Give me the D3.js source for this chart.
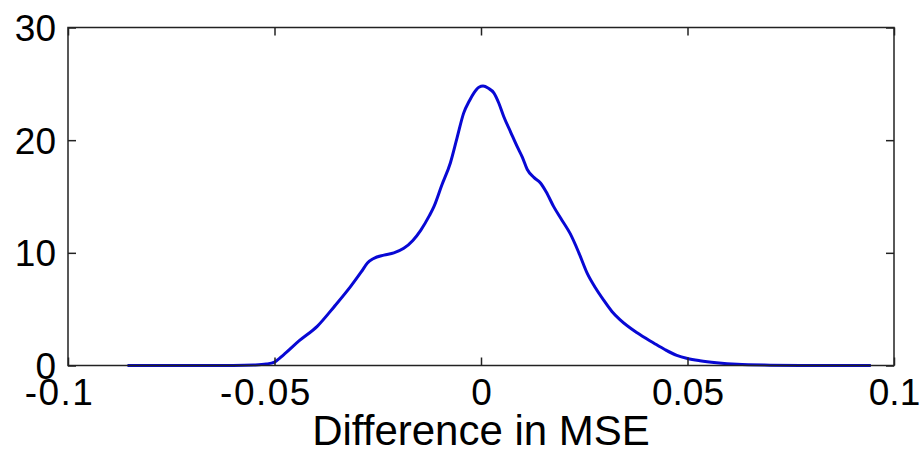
<!DOCTYPE html>
<html>
<head>
<meta charset="utf-8">
<script src="https://cdn.jsdelivr.net/npm/d3@7"></script>
<style>
  html, body { margin: 0; padding: 0; background: #fff; }
  svg { display: block; }
  text { font-family: Arial, "Liberation Sans", Helvetica, sans-serif; fill: #000; }
</style>
</head>
<body>
<svg id="chart" width="922" height="457"></svg>
<script>
// ---- data ----
const xValues = [-0.0856, -0.07, -0.06, -0.055, -0.052, -0.05, -0.0478, -0.044, -0.0396, -0.0356,
  -0.0316, -0.029, -0.0275, -0.026, -0.0235, -0.0211, -0.0187, -0.0165, -0.0146, -0.0125,
  -0.0114, -0.0095, -0.0074, -0.0058, -0.0042, -0.0028, -0.0017, -0.0005, 0.0005, 0.0018,
  0.0031, 0.0043, 0.0055, 0.0072, 0.0088, 0.0100, 0.0112, 0.0128, 0.0144, 0.0158,
  0.0176, 0.0196, 0.0216, 0.0237, 0.0257, 0.0277, 0.0297, 0.0317, 0.0337, 0.0378,
  0.0418, 0.0446, 0.0474, 0.050, 0.053, 0.057, 0.062, 0.07, 0.08, 0.0944];
const densityValues = [0, 0, 0.01, 0.05, 0.13, 0.3, 0.95, 2.2, 3.5, 5.2,
  7.0, 8.3, 9.1, 9.5, 9.8, 10.0, 10.4, 11.1, 12.0, 13.3,
  14.1, 16.0, 18.0, 20.2, 22.4, 23.5, 24.2, 24.7, 24.8, 24.6,
  24.2, 23.3, 22.1, 20.7, 19.4, 18.5, 17.4, 16.7, 16.2, 15.4,
  14.1, 12.9, 11.7, 10.0, 8.2, 6.9, 5.8, 4.8, 4.05, 2.9,
  2.0, 1.4, 0.9, 0.62, 0.42, 0.24, 0.1, 0.03, 0, 0];
const xTicks = [-0.1, -0.05, 0, 0.05, 0.1];
const xTickLabels = ["-0.1", "-0.05", "0", "0.05", "0.1"];
const yTicks = [0, 10, 20, 30];
const yTickLabels = ["0", "10", "20", "30"];
const xLabel = "Difference in MSE";

// ---- layout ----
const svg = d3.select("#chart");
const mLeft = 68, mRight = 894, mTop = 27.5, mBottom = 365.5;
const x = d3.scaleLinear().domain([-0.1, 0.1]).range([mLeft, mRight]);
const y = d3.scaleLinear().domain([0, 30]).range([mBottom, mTop]);
const tickLen = 8;

svg.append("rect").attr("x", 0).attr("y", 0).attr("width", 922).attr("height", 457).attr("fill", "#fff");

// curve
const pts = xValues.map((v, i) => [v, densityValues[i]]);
svg.append("path")
  .datum(pts)
  .attr("d", d3.line().x(d => x(d[0])).y(d => y(d[1])).curve(d3.curveMonotoneX))
  .attr("fill", "none")
  .attr("stroke", "#0808d4")
  .attr("stroke-width", 3)
  .attr("stroke-linejoin", "round");

// axes (ticks inward on all sides, MATLAB style)
const axStroke = "#222";
const bottomAxis = svg.append("g").attr("transform", `translate(0,${mBottom})`)
  .call(d3.axisBottom(x).tickValues(xTicks).tickSizeInner(-tickLen).tickSizeOuter(0).tickFormat((d, i) => xTickLabels[i]));
const topAxis = svg.append("g").attr("transform", `translate(0,${mTop})`)
  .call(d3.axisTop(x).tickValues(xTicks).tickSizeInner(-tickLen).tickSizeOuter(0).tickFormat(""));
const leftAxis = svg.append("g").attr("transform", `translate(${mLeft},0)`)
  .call(d3.axisLeft(y).tickValues(yTicks).tickSizeInner(-tickLen).tickSizeOuter(0).tickFormat((d, i) => yTickLabels[i]));
const rightAxis = svg.append("g").attr("transform", `translate(${mRight},0)`)
  .call(d3.axisRight(y).tickValues(yTicks).tickSizeInner(-tickLen).tickSizeOuter(0).tickFormat(""));

[bottomAxis, topAxis, leftAxis, rightAxis].forEach(g => {
  g.select(".domain").remove();
  g.selectAll(".tick line").attr("stroke", axStroke).attr("stroke-width", 1.5);
  g.selectAll("text").attr("font-family", "Arial, 'Liberation Sans', sans-serif").attr("fill", "#000");
});

bottomAxis.selectAll("text").attr("font-size", 37).attr("dy", null).attr("y", 39)
  .attr("letter-spacing", (d) => d < 0 ? 1.5 : 0)
  .attr("dx", (d) => d < 0 ? -9 : 0);
leftAxis.selectAll("text").attr("font-size", 37).attr("x", -12).attr("dy", "0.35em");

// frame
svg.append("rect")
  .attr("x", mLeft).attr("y", mTop).attr("width", mRight - mLeft).attr("height", mBottom - mTop)
  .attr("fill", "none").attr("stroke", axStroke).attr("stroke-width", 1.5);

// x label
svg.append("text")
  .attr("x", 481).attr("y", 445)
  .attr("text-anchor", "middle")
  .attr("font-size", 42)
  .text(xLabel);
</script>
</body>
</html>
